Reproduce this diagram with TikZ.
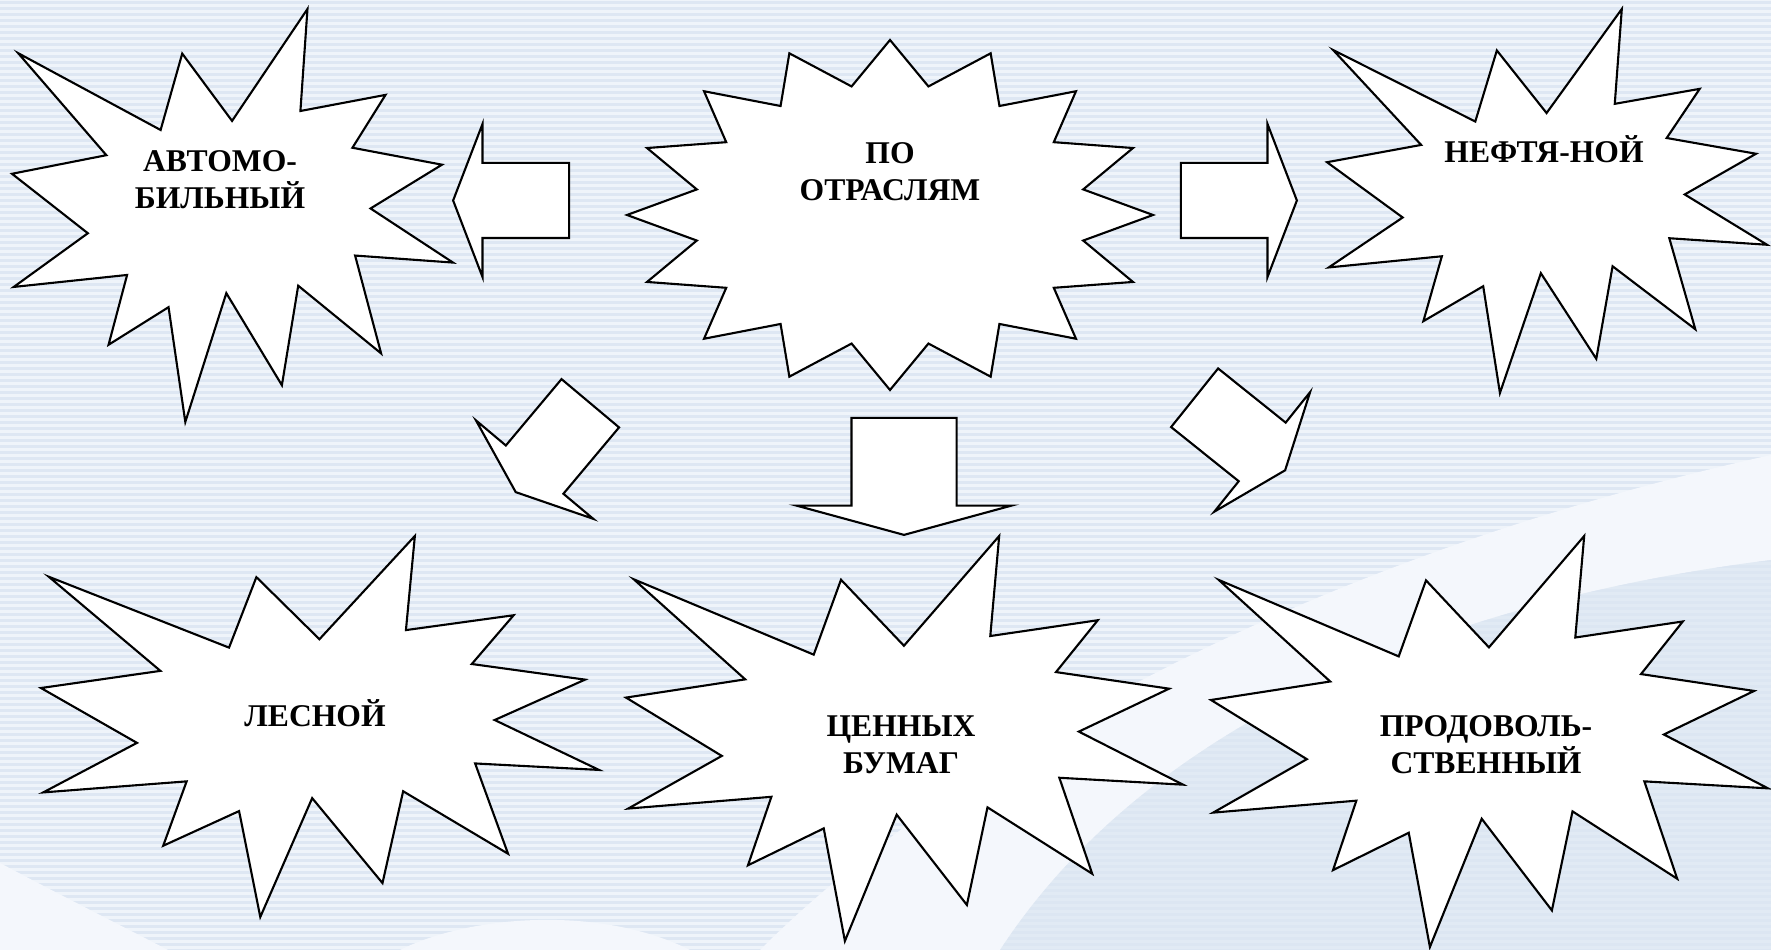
\documentclass[tikz,border=0pt]{standalone}
\usepackage{fontspec}
\setmainfont{Liberation Serif}
\usetikzlibrary{shapes.arrows}
\definecolor{bgpale}{HTML}{EFF4FA}
\definecolor{bgstripe}{HTML}{DEE7F3}
\definecolor{bgwave}{HTML}{F4F7FC}
\definecolor{bgdeep}{HTML}{DCE6F2}
\tikzset{
  sealline/.style={draw=black, fill=white, line width=0.6pt},
  lbl/.style={font=\bfseries\fontsize{9}{10.8}\selectfont, align=center,
              inner sep=0pt, anchor=base},
  blockarr/.style={single arrow, draw=black, fill=white, line width=0.6pt,
                   inner xsep=0pt, inner ysep=3.65mm, minimum height=11.6mm,
                   single arrow head extend=3.9mm, single arrow tip angle=138,
                   anchor=tip},
  widearr/.style={blockarr, inner ysep=5.15mm, minimum height=11.7mm,
                  single arrow head extend=5.5mm, single arrow tip angle=149.5},
  pics/seal/.style 2 args={code={
    \draw[sealline, x=#1, y=-#2]
      (0.670,0.000) -- (0.654,0.247) -- (0.847,0.208) -- (0.772,0.336)
      -- (0.975,0.377) -- (0.813,0.483) -- (1.000,0.614) -- (0.778,0.597)
      -- (0.837,0.834) -- (0.649,0.670) -- (0.612,0.911) -- (0.486,0.688)
      -- (0.393,1.000) -- (0.355,0.722) -- (0.219,0.813) -- (0.261,0.644)
      -- (0.004,0.673) -- (0.172,0.543) -- (0.000,0.399) -- (0.214,0.354)
      -- (0.014,0.107) -- (0.337,0.293) -- (0.386,0.108) -- (0.499,0.271)
      -- cycle;
  }},
}
\begin{document}
\begin{tikzpicture}[x=0.1mm, y=-0.1mm]
  % background
  \useasboundingbox (0,0) rectangle (1771,950);
  \fill[bgpale] (0,0) rectangle (1771,950);
  \foreach \i in {0,...,158}
    \fill[bgstripe] (0,{6*\i+1}) rectangle (1771,{6*\i+4});
  \fill[bgwave] (760,950) .. controls (950,760) and (1300,560) .. (1771,455)
    -- (1771,560) .. controls (1450,600) and (1150,720) .. (1000,950) -- cycle;
  \fill[bgdeep, opacity=0.7] (1000,950) .. controls (1150,720) and (1450,600) .. (1771,560)
    -- (1771,950) -- cycle;
  \fill[bgwave] (0,863) .. controls (60,895) and (120,925) .. (168,950) -- (0,950) -- cycle;
  \fill[bgwave] (400,950) .. controls (470,915) and (600,905) .. (690,950) -- cycle;

  % explosion stars
  \pic at (12,9) {seal={4.41cm}{4.13cm}};
  \pic at (1327,9) {seal={4.40cm}{3.84cm}};
  \pic at (41,536) {seal={5.58cm}{3.81cm}};
  \pic at (626,536) {seal={5.57cm}{4.05cm}};
  \pic at (1211,536) {seal={5.57cm}{4.11cm}};
  % sixteen-point star
  \draw[sealline] (890,40)
    \foreach \k [evaluate=\k as \rr using {1-0.251*mod(\k,2)}] in {1,...,31}
      { -- ({890+263*\rr*sin(11.25*\k)}, {215-175*\rr*cos(11.25*\k)}) } -- cycle;

  % labels (base = last line)
  \node[lbl] (avto) at (220,209) {АВТОМО-\\БИЛЬНЫЙ};
  \node[lbl] (otrasl) at (890,201) {ПО\\ОТРАСЛЯМ};
  \node[lbl] (neft) at (1544,163) {НЕФТЯ-НОЙ};
  \node[lbl] (les) at (315,727) {ЛЕСНОЙ};
  \node[lbl] (bumagi) at (901,774) {ЦЕННЫХ\\БУМАГ};
  \node[lbl] (prod) at (1486,774) {ПРОДОВОЛЬ-\\СТВЕННЫЙ};

  % block arrows
  \node[blockarr, rotate=180] (toavto) at (452,200.5) {};
  \node[blockarr] (toneft) at (1298,200.5) {};
  \node[widearr, rotate=-90] (tobumagi) at (904,536) {};
  \node[blockarr, rotate=-130] (toles) at (515,493) {};
  \node[blockarr, rotate=-38.7] (toprod) at (1286,471) {};
\end{tikzpicture}
\end{document}
